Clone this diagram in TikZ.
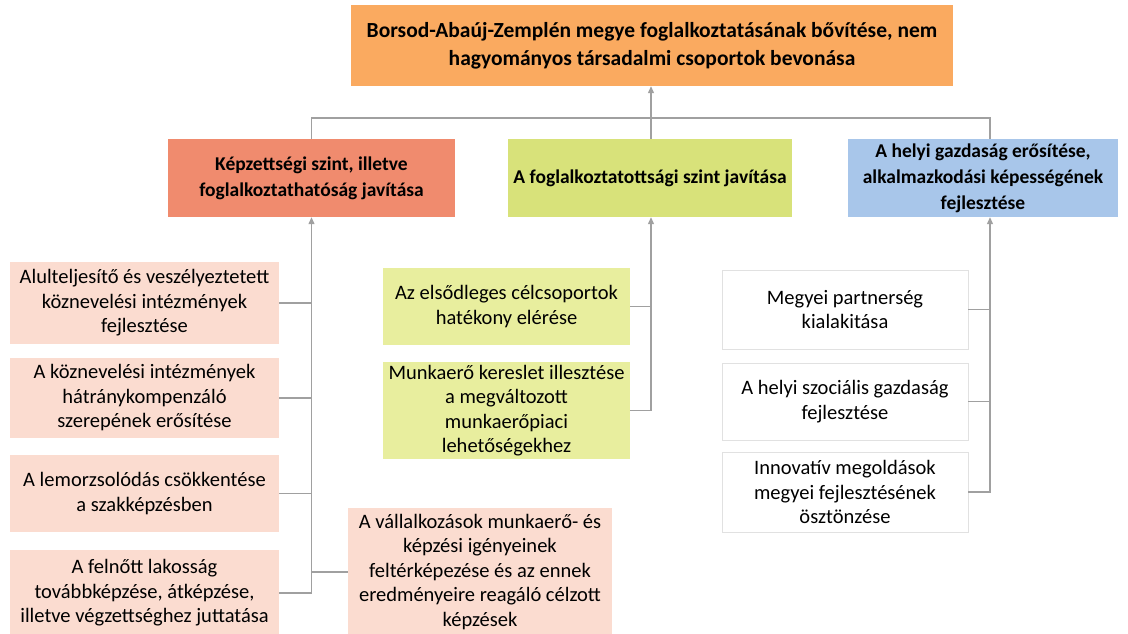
\documentclass[tikz,border=0pt]{standalone}
\usepackage{fontspec}
\setmainfont{Carlito}
\usetikzlibrary{arrows.meta,calc}
\definecolor{topc}{RGB}{250,170,96}
\definecolor{redc}{RGB}{240,139,110}
\definecolor{grnc}{RGB}{216,226,122}
\definecolor{bluc}{RGB}{168,198,234}
\definecolor{pinkc}{RGB}{251,220,208}
\definecolor{lgrnc}{RGB}{232,238,158}
\definecolor{linec}{RGB}{160,160,160}
\definecolor{wbord}{RGB}{225,225,225}
\tikzset{
  box/.style={rectangle,inner sep=2pt,align=center,anchor=center},
  topbox/.style={box,fill=topc,font=\fontsize{21.5}{28}\selectfont\bfseries},
  lvl/.style={box,font=\fontsize{19.5}{26}\selectfont\bfseries},
  sub/.style={box,font=\fontsize{20.5}{24.5}\selectfont},
  conn/.style={draw=linec,line width=1.2pt},
  arr/.style={conn,-{Triangle[width=6pt,length=7pt]}},
}
\begin{document}
\begin{tikzpicture}[x=1pt,y=-1pt]
\useasboundingbox (0,0) rectangle (1128,634);
\fill[white] (0,0) rectangle (1128,634);
% top
\node[topbox,minimum width=602,minimum height=81] (top) at (652,45.5)
  {Borsod-Abaúj-Zemplén megye foglalkoztatásának bővítése, nem\\hagyományos társadalmi csoportok bevonása};
% level 2
\node[lvl,fill=redc,minimum width=287,minimum height=78] (red) at (311.5,178)
  {Képzettségi szint, illetve\\foglalkoztathatóság javítása};
\node[lvl,fill=grnc,minimum width=284,minimum height=78] (green) at (650,178)
  {A foglalkoztatottsági szint javítása};
\node[lvl,fill=bluc,minimum width=270,minimum height=78] (blue) at (983,178)
  {A helyi gazdaság erősítése,\\alkalmazkodási képességének\\fejlesztése};
% left column
\node[sub,fill=pinkc,minimum width=269,minimum height=82] (b1) at (144.5,303)
  {Alulteljesítő és veszélyeztetett\\köznevelési intézmények\\fejlesztése};
\node[sub,fill=pinkc,minimum width=269,minimum height=80] (b2) at (144.5,398)
  {A köznevelési intézmények\\hátránykompenzáló\\szerepének erősítése};
\node[sub,fill=pinkc,minimum width=269,minimum height=77] (b3) at (144.5,493.5)
  {A lemorzsolódás csökkentése\\a szakképzésben};
\node[sub,fill=pinkc,minimum width=269,minimum height=86] (b4) at (144.5,593)
  {A felnőtt lakosság\\továbbképzése, átképzése,\\illetve végzettséghez juttatása};
\node[sub,fill=pinkc,minimum width=264,minimum height=128] (b5) at (480,572)
  {A vállalkozások munkaerő- és\\képzési igényeinek\\feltérképezése és az ennek\\eredményeire reagáló célzott\\képzések};
% green column
\node[sub,fill=lgrnc,minimum width=247,minimum height=77] (g1) at (506.5,306.5)
  {Az elsődleges célcsoportok\\hatékony elérése};
\node[sub,fill=lgrnc,minimum width=247,minimum height=97] (g2) at (506.5,410.5)
  {Munkaerő kereslet illesztése\\a megváltozott\\munkaerőpiaci\\lehetőségekhez};
% blue column
\node[sub,fill=white,draw=wbord,line width=0.8pt,minimum width=246,minimum height=79] (w1) at (845,309.5)
  {Megyei partnerség\\kialakitása};
\node[sub,fill=white,draw=wbord,line width=0.8pt,minimum width=246,minimum height=77] (w2) at (845,401.5)
  {A helyi szociális gazdaság\\fejlesztése};
\node[sub,fill=white,draw=wbord,line width=0.8pt,minimum width=246,minimum height=80] (w3) at (845,492)
  {Innovatív megoldások\\megyei fejlesztésének\\ösztönzése};
% connectors
\coordinate (bar) at (651,118);
\coordinate (bt) at ($(blue.north)+(7,0)$);
\coordinate (bb) at ($(blue.south)+(7,0)$);
\coordinate (gb) at ($(green.south)+(1,0)$);
\draw[arr] (green.north -| bar) -- (top.south -| bar);
\draw[conn] (red.north) |- (bar) -| (bt);
% left tree
\draw[arr] (b4.east) -| (red.south);
\draw[conn] (b1.east) -- (b1.east -| red.south);
\draw[conn] (b2.east) -- (b2.east -| red.south);
\draw[conn] (b3.east) -- (b3.east -| red.south);
\draw[conn] (b5.west) -- (b5.west -| red.south);
% green tree
\draw[arr] (g2.east) -| (gb);
\draw[conn] (g1.east) -- (g1.east -| gb);
% blue tree
\draw[arr] (w3.east) -| (bb);
\draw[conn] (w1.east) -- (w1.east -| bb);
\draw[conn] (w2.east) -- (w2.east -| bb);
\end{tikzpicture}
\end{document}
